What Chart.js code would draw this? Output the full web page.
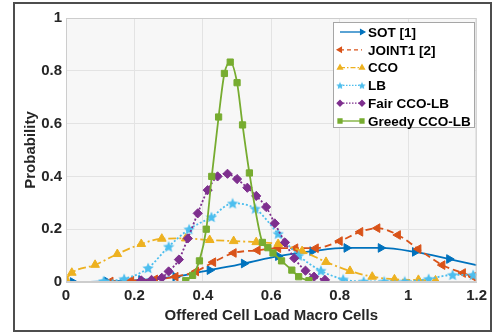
<!DOCTYPE html>
<html>
<head>
<meta charset="utf-8">
<script src="https://cdn.jsdelivr.net/npm/chart.js@4/dist/chart.umd.min.js"></script>
<style>
  html, body { margin: 0; padding: 0; background: #fff; }
  #wrap { width: 492px; height: 334px; }
</style>
</head>
<body>
<div id="wrap"><canvas id="myChart" width="492" height="334"></canvas></div>
<script>
// data
var sotX = [0, 0.02, 0.12, 0.22, 0.32, 0.42, 0.52, 0.62, 0.72, 0.82, 0.92, 1.02, 1.12, 1.2];
var sotY = [0, 0.0, 0.002, 0.008, 0.02, 0.045, 0.07, 0.098, 0.117, 0.129, 0.129, 0.114, 0.087, 0.064];

var jointX = [0.13, 0.19, 0.26, 0.32, 0.38, 0.43, 0.49, 0.56, 0.62, 0.67, 0.73, 0.80, 0.86, 0.91, 0.97, 1.03, 1.10, 1.16, 1.19];
var jointY = [0.002, 0.005, 0.01, 0.02, 0.04, 0.075, 0.11, 0.12, 0.128, 0.128, 0.128, 0.155, 0.19, 0.204, 0.178, 0.125, 0.064, 0.034, 0.02];

var ccoX = [0, 0.017, 0.085, 0.15, 0.22, 0.28, 0.35, 0.42, 0.49, 0.556, 0.62, 0.69, 0.76, 0.83, 0.895, 0.96, 1.03, 1.08];
var ccoY = [0.01, 0.035, 0.065, 0.106, 0.144, 0.164, 0.165, 0.159, 0.155, 0.151, 0.144, 0.117, 0.076, 0.042, 0.02, 0.01, 0.008, 0.006];

var lbX = [0.11, 0.17, 0.24, 0.30, 0.36, 0.425, 0.487, 0.553, 0.62, 0.68, 0.745, 0.81, 0.87, 0.93, 0.99, 1.06, 1.13, 1.19];
var lbY = [0.004, 0.012, 0.053, 0.134, 0.2, 0.246, 0.298, 0.278, 0.183, 0.1, 0.043, 0.01, 0.002, 0.002, 0.002, 0.012, 0.027, 0.027];

var fairX = [0.22, 0.25, 0.28, 0.30, 0.33, 0.356, 0.385, 0.414, 0.443, 0.472, 0.50, 0.53, 0.556, 0.585, 0.61, 0.64, 0.667, 0.70, 0.725, 0.757];
var fairY = [0.006, 0.008, 0.016, 0.04, 0.085, 0.165, 0.26, 0.348, 0.4, 0.41, 0.39, 0.357, 0.326, 0.284, 0.222, 0.15, 0.09, 0.043, 0.02, 0.008];

var greedyX = [0.35, 0.37, 0.39, 0.41, 0.426, 0.446, 0.463, 0.48, 0.50, 0.516, 0.536, 0.574, 0.59, 0.605, 0.63, 0.66, 0.68, 0.71];
var greedyY = [0.005, 0.025, 0.08, 0.2, 0.40, 0.625, 0.79, 0.833, 0.755, 0.595, 0.413, 0.15, 0.13, 0.11, 0.08, 0.045, 0.02, 0.005];

var seriesNames = ['SOT [1]', 'JOINT1 [2]', 'CCO', 'LB', 'Fair CCO-LB', 'Greedy CCO-LB'];
var xTicks = [0, 0.2, 0.4, 0.6, 0.8, 1, 1.2];
var yTicks = [0, 0.2, 0.4, 0.6, 0.8, 1];

var pts = function(xs, ys) {
    var out = [];
    for (var i = 0; i < xs.length; i++) out.push({x: xs[i], y: ys[i]});
    return out;
};

// filled five point star as an image marker
var makeStar = function(size, color) {
    var c = document.createElement('canvas');
    c.width = size; c.height = size;
    var g = c.getContext('2d');
    var cx = size / 2, cy = size / 2 + 0.5, R = size / 2, r = R * 0.45;
    g.beginPath();
    for (var i = 0; i < 10; i++) {
        var rr = i % 2 === 0 ? R : r;
        var a = -Math.PI / 2 + i * Math.PI / 5;
        g.lineTo(cx + rr * Math.cos(a), cy + rr * Math.sin(a));
    }
    g.closePath();
    g.fillStyle = color;
    g.fill();
    return c;
};

var colors = ['#0072BD', '#D95319', '#EDB120', '#4DBEEE', '#7E2F8E', '#77AC30'];
var starBig = makeStar(12, colors[3]);
var starSmall = makeStar(8, colors[3]);

var styles = [
    {dash: [], style: 'triangle', rot: 90, r: 5},
    {dash: [7, 4], style: 'triangle', rot: -90, r: 5},
    {dash: [8, 3, 2, 3], style: 'triangle', rot: 0, r: 5},
    {dash: [2, 2], style: starBig, rot: 0, r: 6},
    {dash: [2, 2], style: 'rectRot', rot: 0, r: 4.6},
    {dash: [], style: 'rect', rot: 0, r: 4.4}
];
var legendStyles = ['triangle', 'triangle', 'triangle', starSmall, 'rectRot', 'rect'];

var allX = [sotX, jointX, ccoX, lbX, fairX, greedyX];
var allY = [sotY, jointY, ccoY, lbY, fairY, greedyY];

var datasets = [];
for (var i = 0; i < 6; i++) {
    (function(i) {
        var n = allX[i].length;
        datasets.push({
            label: seriesNames[i],
            data: pts(allX[i], allY[i]),
            borderColor: colors[i],
            backgroundColor: colors[i],
            borderWidth: 1.8,
            borderDash: styles[i].dash,
            pointStyle: styles[i].style,
            pointRotation: styles[i].rot,
            pointRadius: function(ctx) {
                if (i === 0 && (ctx.dataIndex === 0 || ctx.dataIndex === n - 1)) return 0;
                return styles[i].r;
            },
            pointBackgroundColor: colors[i],
            pointBorderColor: colors[i],
            pointBorderWidth: 1,
            cubicInterpolationMode: 'monotone',
            showLine: true,
            fill: false,
            order: 5 - i
        });
    })(i);
}

var bgPlugin = {
    id: 'bg',
    beforeDraw: function(chart) {
        var ctx = chart.ctx, a = chart.chartArea;
        ctx.save();
        ctx.fillStyle = '#ffffff';
        ctx.fillRect(0, 0, chart.width, chart.height);
        ctx.fillStyle = '#f7f7f7';
        ctx.fillRect(a.left, a.top, a.right - a.left, a.bottom - a.top);
        ctx.restore();
    },
    afterDraw: function(chart) {
        var ctx = chart.ctx, a = chart.chartArea;
        ctx.save();
        // plot box
        ctx.strokeStyle = '#cdcdcd';
        ctx.lineWidth = 1;
        ctx.strokeRect(a.left + 0.5, a.top + 0.5, a.right - a.left - 1, a.bottom - a.top - 1);
        // outer frame
        ctx.strokeStyle = '#4d4d4d';
        ctx.lineWidth = 2;
        ctx.strokeRect(14, 3, 477, 328);

        // legend
        var lx = 333, ly = 22, lw = 141, lh = 105;
        ctx.fillStyle = '#ffffff';
        ctx.fillRect(lx, ly, lw, lh);
        ctx.strokeStyle = '#a6a6a6';
        ctx.lineWidth = 1;
        ctx.strokeRect(lx + 0.5, ly + 0.5, lw, lh);
        ctx.font = 'bold 13.5px "Liberation Sans", Arial, sans-serif';
        ctx.textBaseline = 'middle';
        ctx.textAlign = 'left';
        for (var k = 0; k < 6; k++) {
            var y = 32 + k * 17.8;
            ctx.strokeStyle = colors[k];
            ctx.fillStyle = colors[k];
            ctx.lineWidth = 1.3;
            ctx.setLineDash(k === 1 ? [4, 3] : (k === 2 ? [5, 2, 1.5, 2] : (k === 3 || k === 4 ? [1.5, 1.5] : [])));
            ctx.beginPath();
            ctx.moveTo(340, y);
            ctx.lineTo(362, y);
            ctx.stroke();
            ctx.setLineDash([]);
            var opt = {pointStyle: legendStyles[k], radius: 2.8, rotation: styles[k].rot, borderWidth: 1};
            if (k !== 0 && k !== 1) Chart.helpers.drawPoint(ctx, opt, 340, y);
            if (k === 0 || k === 1) Chart.helpers.drawPoint(ctx, opt, k === 0 ? 362 : 340, y);
            else Chart.helpers.drawPoint(ctx, opt, 362, y);
            ctx.fillStyle = '#000000';
            ctx.fillText(seriesNames[k], 368, y + 1);
        }
        ctx.restore();
    }
};

var tickFont = {family: '"Liberation Sans", Arial, sans-serif', size: 15, weight: 'bold'};

var ctx = document.getElementById('myChart').getContext('2d');
var chart = new Chart(ctx, {
    type: 'scatter',
    data: {datasets: datasets},
    plugins: [bgPlugin],
    options: {
        responsive: false,
        animation: false,
        layout: {padding: {top: 18, right: 14, left: 0, bottom: 0}},
        plugins: {legend: {display: false}, tooltip: {enabled: false}},
        scales: {
            x: {
                type: 'linear',
                min: 0, max: 1.2,
                afterFit: function(s) { s.height = 52; },
                afterBuildTicks: function(s) { s.ticks = xTicks.map(function(v) { return {value: v}; }); },
                ticks: {font: tickFont, color: '#262626', padding: 5, maxRotation: 0,
                        callback: function(v) { return String(+v.toFixed(1)); }},
                grid: {color: '#e3e3e3', drawTicks: false},
                border: {color: '#cdcdcd'},
                title: {display: true, text: 'Offered Cell Load Macro Cells', font: tickFont, color: '#262626',
                        padding: {top: 0, bottom: 9}}
            },
            y: {
                type: 'linear',
                min: 0, max: 1,
                afterFit: function(s) { s.width = 66; },
                afterBuildTicks: function(s) { s.ticks = yTicks.map(function(v) { return {value: v}; }); },
                ticks: {font: tickFont, color: '#262626', padding: 4,
                        callback: function(v) { return String(+v.toFixed(1)); }},
                grid: {color: '#e3e3e3', drawTicks: false},
                border: {color: '#cdcdcd'},
                title: {display: true, text: 'Probability', font: tickFont, color: '#262626',
                        padding: {top: 22, bottom: 0}}
            }
        }
    }
});
</script>
</body>
</html>
